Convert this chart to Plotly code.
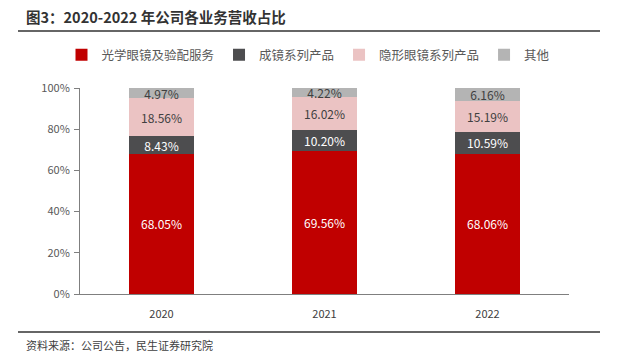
import plotly.graph_objects as go

years = ["2020", "2021", "2022"]
series_names = ["光学眼镜及验配服务", "成镜系列产品", "隐形眼镜系列产品", "其他"]
optical = [68.05, 69.56, 68.06]
finished = [8.43, 10.20, 10.59]
contact = [18.56, 16.02, 15.19]
other = [4.97, 4.22, 6.16]
y_ticks = [0, 20, 40, 60, 80, 100]
y_tick_labels = ["0%", "20%", "40%", "60%", "80%", "100%"]

colors = ["#C00000", "#4D4D4F", "#EBC3C3", "#B4B4B4"]
text_colors = ["#FFFFFF", "#FFFFFF", "#404040", "#404040"]
font = "Noto Sans CJK SC, Noto Sans, sans-serif"

W, H = 617, 352
L, R, T, B = 80, 48, 88, 58
PW, PH = W - L - R, H - T - B


def px_x(x):
    return (x - L) / PW


def px_y(y):
    return (H - B - y) / PH


fig = go.Figure()
for name, vals, c, tc in zip(series_names, [optical, finished, contact, other], colors, text_colors):
    fig.add_trace(go.Bar(
        x=years, y=vals, name=name, marker=dict(color=c, line=dict(width=0)),
        text=[f"{v:.2f}%" for v in vals], textposition="inside", insidetextanchor="middle",
        textfont=dict(color=tc, size=12, family=font), constraintext="none",
        width=0.4,
    ))

fig.update_layout(
    barmode="stack",
    width=W, height=H,
    margin=dict(l=L, r=R, t=T, b=B, autoexpand=False),
    paper_bgcolor="white", plot_bgcolor="white",
    font=dict(family=font, color="#595959", size=11),
    showlegend=True,
    legend=dict(orientation="h", x=0.5, xanchor="center", y=1 - 55 / H, yanchor="middle",
                xref="container", yref="container",
                font=dict(size=12.5, color="#595959"), traceorder="normal",
                itemwidth=30, tracegroupgap=0),
    xaxis=dict(showline=True, linecolor="#7F7F7F", linewidth=1, ticks="",
               ticklabelstandoff=10, tickfont=dict(size=11, color="#404040")),
    yaxis=dict(range=[0, 100], tickmode="array", tickvals=y_ticks, ticktext=y_tick_labels,
               showgrid=False, showline=True, linecolor="#7F7F7F", linewidth=1,
               ticks="outside", ticklen=5, tickcolor="#7F7F7F", ticklabelstandoff=2,
               tickfont=dict(size=11, color="#595959"), zeroline=False),
    annotations=[
        dict(text="<b>图3：2020-2022 年公司各业务营收占比</b>", xref="paper", yref="paper",
             x=px_x(24), y=px_y(17), xanchor="left", yanchor="middle", showarrow=False,
             font=dict(size=14.5, color="#333333", family=font)),
        dict(text="资料来源：公司公告，民生证券研究院", xref="paper", yref="paper",
             x=px_x(24), y=px_y(345), xanchor="left", yanchor="middle", showarrow=False,
             font=dict(size=11, color="#404040", family=font)),
    ],
    shapes=[
        dict(type="line", xref="paper", yref="paper", x0=px_x(18), x1=px_x(600),
             y0=px_y(31), y1=px_y(31), line=dict(color="#666666", width=2)),
        dict(type="line", xref="paper", yref="paper", x0=px_x(18), x1=px_x(600),
             y0=px_y(332), y1=px_y(332), line=dict(color="#666666", width=2)),
    ],
)

fig.write_html("out.html")
